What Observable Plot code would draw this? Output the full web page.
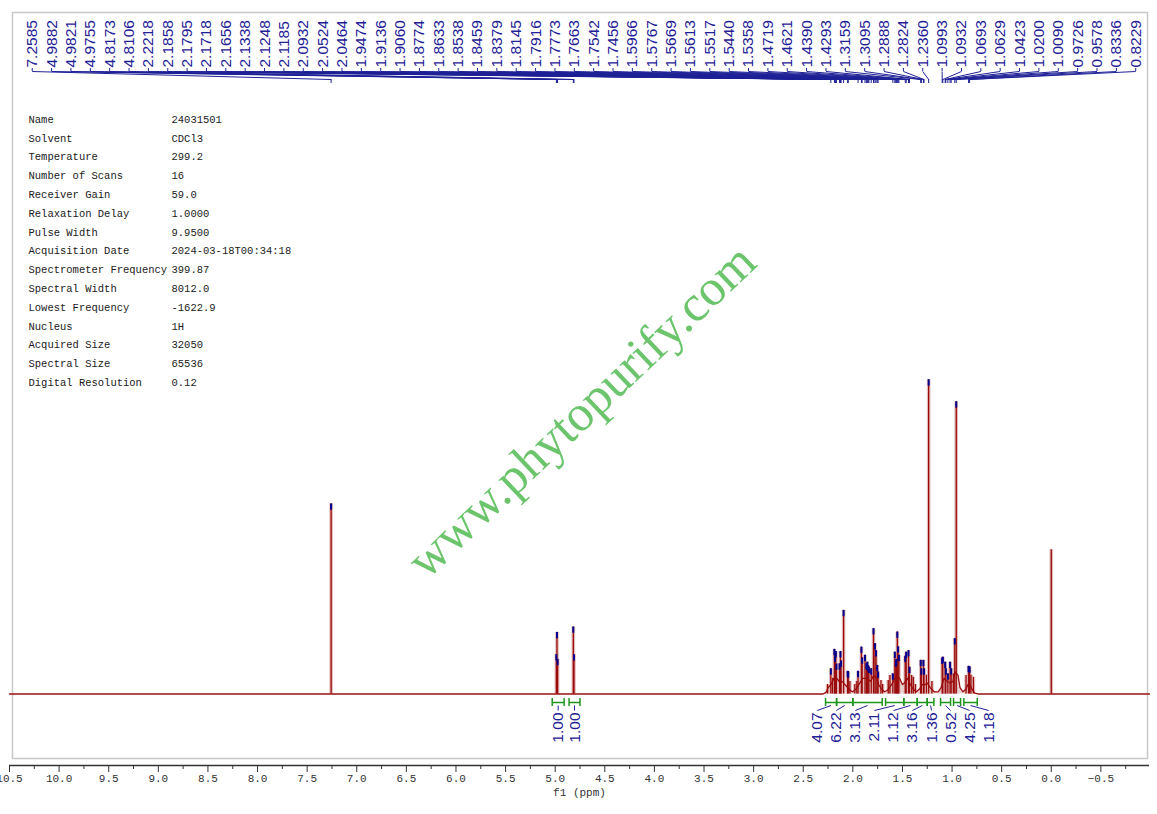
<!DOCTYPE html>
<html><head><meta charset="utf-8">
<script src="https://cdn.jsdelivr.net/npm/d3@7"></script>
<script src="https://cdn.jsdelivr.net/npm/@observablehq/plot@0.6"></script>
<style>
html,body{margin:0;padding:0;background:#fff;}
</style></head><body><div id="chart"></div>
<script>
// ---- picked peaks (ppm, relative intensity; tallest = 100) ----
const peakPpm = [7.2585,4.9882,4.9821,4.9755,4.8173,4.8106,2.2218,2.1858,2.1795,2.1718,2.1656,2.1338,2.1248,2.1185,2.0932,2.0524,2.0464,1.9474,1.9136,1.9060,1.8774,1.8633,1.8538,1.8459,1.8379,1.8145,1.7916,1.7773,1.7663,1.7542,1.7456,1.5966,1.5767,1.5669,1.5613,1.5517,1.5440,1.5358,1.4719,1.4621,1.4390,1.4293,1.3159,1.3095,1.2888,1.2824,1.2360,1.0993,1.0932,1.0693,1.0629,1.0423,1.0200,1.0090,0.9726,0.9578,0.8336,0.8229];
const peakHeight = [60.5,12.5,19.6,11.0,21.3,12.5,8.0,14.2,12.0,13.5,9.5,9.6,13.5,10.5,26.6,7.2,7.0,7.2,14.9,11.5,12.3,9.6,10.1,9.0,8.5,8.0,20.8,16.0,13.8,9.1,7.0,6.4,13.3,10.5,11.0,19.7,15.0,12.3,12.0,13.3,13.8,8.5,10.7,8.0,10.7,8.0,100,11.4,11.7,10.1,8.0,6.4,10.1,8.0,17.6,93.0,8.8,8.6];
// ---- unlabelled lines ----
const extraPpm = [0.0,2.255,2.205,2.030,1.980,1.960,1.717,1.700,1.643,1.626,1.408,1.391,1.370,1.258,1.203,0.987,0.859,0.810,0.785];
const extraHeight = [45.9,3.0,5.0,4.0,3.0,4.0,4.3,3.0,4.3,5.9,5.9,5.3,3.0,6.0,4.0,6.4,5.9,6.0,5.3];
// ---- broad envelope under the aliphatic multiplets ----
const envPpm = [10.5,2.30,2.27,2.25,2.22,2.19,2.16,2.14,2.11,2.08,2.05,2.02,2.00,1.97,1.94,1.90,1.86,1.82,1.79,1.76,1.74,1.71,1.68,1.65,1.62,1.59,1.56,1.53,1.50,1.48,1.45,1.42,1.39,1.36,1.33,1.30,1.27,1.25,1.22,1.18,1.14,1.11,1.08,1.05,1.02,0.99,0.97,0.94,0.92,0.89,0.86,0.84,0.82,0.80,0.77,0.74,-0.99];
const envHeight = [0,0,0.5,2,3,5,5,4,4,3,2,1,0.7,1.5,3,5,5,4,6,5,3,1.5,0.7,1.2,2.5,4,6,5,3,3.5,5,3,1.5,0.7,1.5,3,3,3.5,2,0.7,0.7,2,5,4,3.5,4,7,6,2,0.7,1.5,3,3,1.5,0.3,0,0];
// ---- integrals ----
const integFrom  = [5.03,4.86,2.275,2.164,2.000,1.670,1.486,1.351,1.250,1.116,0.985,0.881];
const integTo    = [4.91,4.75,2.164,2.000,1.704,1.486,1.351,1.250,1.183,1.015,0.914,0.746];
const integValue = ["1.00","1.00","4.07","6.22","3.13","2.11","1.12","3.16","1.36","0.52","4.25","1.18"];
// ---- acquisition parameters ----
const paramNames = ["Name","Solvent","Temperature","Number of Scans","Receiver Gain","Relaxation Delay","Pulse Width","Acquisition Date","Spectrometer Frequency","Spectral Width","Lowest Frequency","Nucleus","Acquired Size","Spectral Size","Digital Resolution"];
const paramValues = ["24031501","CDCl3","299.2","16","59.0","1.0000","9.9500","2024-03-18T00:34:18","399.87","8012.0","-1622.9","1H","32050","65536","0.12"];
// ---- axis ticks ----
const majorTicks = [10.5,10.0,9.5,9.0,8.5,8.0,7.5,7.0,6.5,6.0,5.5,5.0,4.5,4.0,3.5,3.0,2.5,2.0,1.5,1.0,0.5,0.0,-0.5];
const minorTicks = [10.25,9.75,9.25,8.75,8.25,7.75,7.25,6.75,6.25,5.75,5.25,4.75,4.25,3.75,3.25,2.75,2.25,1.75,1.25,0.75,0.25,-0.25,-0.75];

const W = 1157, H = 814, mL = 9, mR = 8, mT = 12, mB = 49;
const xDomain = [10.5, -0.99];
const yDomain = [-22.76, 216.9];
const yPix = d3.scaleLinear().domain(yDomain).range([H - mB, mT]);
const yAt = px => yPix.invert(px);

const BLUE = "#1f2196", GREEN = "#1e961e";

const picked = peakPpm.map((p, i) => ({p, h: peakHeight[i]}));
const extra = extraPpm.map((p, i) => ({p, h: extraHeight[i]}));
const lines = picked.concat(extra);
const env = envPpm.map((p, i) => ({p, h: envHeight[i]}));

const lblPos = d3.scaleLinear().domain([0, peakPpm.length - 1]).range([10.271, -0.851]);
const labels = peakPpm.map((p, i) => ({p, lx: lblPos(i), t: p.toFixed(4)}));

const clusterLbl = d3.scaleLinear().domain([0, 9]).range([2.358, 0.631]);
const integ = integFrom.map((f, i) => ({
  f, t: integTo[i], c: (f + integTo[i]) / 2, v: integValue[i],
  lx: i < 2 ? (f + integTo[i]) / 2 : clusterLbl(i - 2)
}));
const integEnds = integ.flatMap(d => [d.f, d.t]);

const chart = Plot.plot({
  width: W, height: H,
  marginLeft: mL, marginRight: mR, marginTop: mT, marginBottom: mB,
  x: {domain: xDomain, axis: null},
  y: {domain: yDomain, axis: null},
  style: {fontFamily: "Liberation Mono", fontSize: "11px", background: "white", overflow: "hidden"},
  marks: [
    Plot.frame({stroke: "#c8c8c8", strokeWidth: 1.5, insetLeft: 3, insetRight: 2, insetBottom: 7}),
    // parameter table
    Plot.text([paramNames.join("\n")], {text: d => d, frameAnchor: "top-left", dx: 19, dy: 97, lineAnchor: "top", lineHeight: 1.79, textAnchor: "start", fontSize: 10.5, fontFamily: "Liberation Mono", fill: "#1a1a1a"}),
    Plot.text([paramValues.join("\n")], {text: d => d, frameAnchor: "top-left", dx: 162, dy: 97, lineAnchor: "top", lineHeight: 1.79, textAnchor: "start", fontSize: 10.5, fontFamily: "Liberation Mono", fill: "#1a1a1a"}),
    // watermark
    Plot.text(["www.phytopurify.com"], {text: d => d, frameAnchor: "middle", dx: 2, dy: 22, rotate: -43.5, fontSize: 51, fontFamily: "Liberation Serif", fill: "#5cbf5c", fillOpacity: 0.9}),
    // spectrum
    Plot.areaY(env, {x: "p", y: "h", fill: "#ecd2d2"}),
    Plot.ruleX(lines, {x: "p", y1: 0, y2: "h", stroke: "#e3bcbc", strokeWidth: 3.6}),
    Plot.line(env, {x: "p", y: "h", stroke: "#9b1010", strokeWidth: 1.3}),
    Plot.ruleX(lines, {x: "p", y1: 0, y2: "h", stroke: "#9a0a0a", strokeWidth: 1.3}),
    Plot.ruleX(picked, {x: "p", y1: d => d.h - 2, y2: "h", stroke: "#00008f", strokeWidth: 2}),
    // peak labels
    Plot.text(labels, {x: "lx", y: yAt(67), text: "t", rotate: -90, textAnchor: "start", lineAnchor: "middle", fontFamily: "Liberation Sans", fontSize: 15.5, fill: BLUE}),
    Plot.ruleX(labels, {x: "lx", y1: yAt(68), y2: yAt(71), stroke: BLUE, strokeWidth: 1}),
    Plot.link(labels, {x1: "lx", y1: yAt(71), x2: "p", y2: yAt(79), stroke: BLUE, strokeWidth: 1}),
    Plot.ruleX(labels, {x: "p", y1: yAt(79), y2: yAt(83), stroke: BLUE, strokeWidth: 1}),
    // integrals
    Plot.link(integ, {x1: "f", x2: "t", y1: yAt(702), y2: yAt(702), stroke: GREEN, strokeWidth: 1.5}),
    Plot.ruleX(integEnds, {x: d => d, y1: yAt(698), y2: yAt(706), stroke: GREEN, strokeWidth: 1.5}),
    Plot.link(integ, {x1: "c", y1: yAt(705), x2: "lx", y2: yAt(710), stroke: BLUE, strokeWidth: 1}),
    Plot.text(integ, {x: "lx", y: yAt(712), text: "v", rotate: -90, textAnchor: "end", lineAnchor: "middle", fontFamily: "Liberation Sans", fontSize: 15.5, fill: BLUE}),
    // axis
    Plot.ruleY([yDomain[0]], {stroke: "#333", strokeWidth: 1.5}),
    Plot.axisX(majorTicks, {anchor: "bottom", tickSize: 7, tickPadding: 2, tickFormat: d3.format(".1f"), label: null, stroke: "#333", fill: "#333"}),
    Plot.axisX(minorTicks, {anchor: "bottom", tickSize: 4, tickFormat: () => "", label: null, stroke: "#333"}),
    Plot.text(["f1 (ppm)"], {text: d => d, frameAnchor: "bottom", dy: 30, fontSize: 11, fill: "#333"})
  ]
});
document.getElementById("chart").append(chart);
</script></body></html>
